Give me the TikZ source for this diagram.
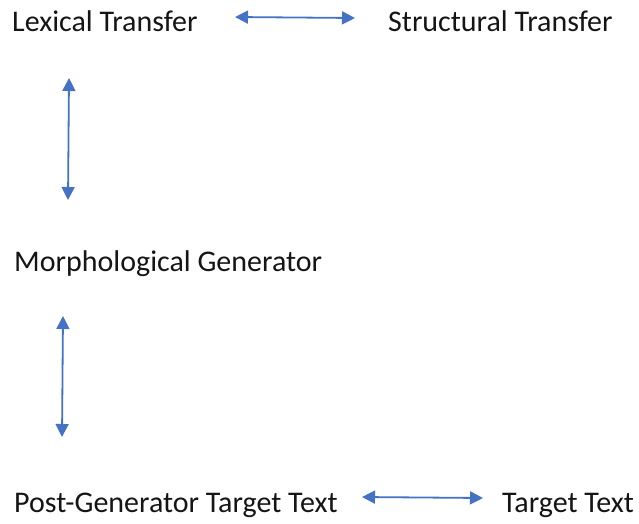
\documentclass[tikz,border=0pt]{standalone}
\usepackage{fontspec}
\setmainfont{Carlito}
\usetikzlibrary{arrows.meta}
\definecolor{linkblue}{HTML}{4472C4}
\definecolor{labelink}{HTML}{151515}
\tikzset{
  label/.style={anchor=base west, inner sep=0pt, text=labelink,
    font=\fontsize{30}{32}\selectfont},
  link/.style={draw=linkblue, line width=1.8pt,
    {Triangle[length=13pt,width=13pt]}-{Triangle[length=13pt,width=13pt]}}
}
\begin{document}
\begin{tikzpicture}[x=1pt,y=-1pt]
  \path[use as bounding box, fill=white] (0,0) rectangle (639,523);

  % stage labels
  \node[label] (lex)    at (12,31)  {Lexical Transfer};
  \node[label] (struct) at (388,31) {Structural Transfer};
  \node[label] (morph)  at (14,271) {Morphological Generator};
  \node[label] (post)   at (14,512) {Post-Generator Target Text};
  \node[label] (target) at (502,512) {Target Text};

  % arrow end points
  \coordinate (a1) at (235,17);  \coordinate (a2) at (355,18);
  \coordinate (b1) at (69,78);   \coordinate (b2) at (68,200);
  \coordinate (c1) at (63,316);  \coordinate (c2) at (62,437);
  \coordinate (d1) at (362,497); \coordinate (d2) at (483,498);

  % two-way links
  \draw[link] (a1) -- (a2);
  \draw[link] (b1) -- (b2);
  \draw[link] (c1) -- (c2);
  \draw[link] (d1) -- (d2);
\end{tikzpicture}
\end{document}
